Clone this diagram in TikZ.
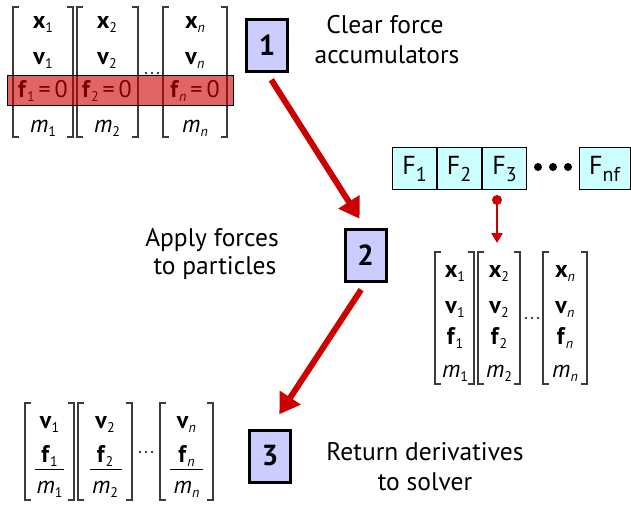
\documentclass[tikz,border=0pt]{standalone}
\usepackage{fontspec}
\setmainfont{PT Sans}
\usetikzlibrary{arrows.meta}
\definecolor{boxblue}{RGB}{204,204,255}
\definecolor{fcyan}{RGB}{204,255,255}
\definecolor{arrred}{RGB}{204,0,0}
\definecolor{brkgray}{RGB}{60,60,60}
\newcommand\sbs[1]{\raisebox{-0.4ex}{\fontsize{14}{14}\selectfont #1}}
\newcommand\fsb[1]{\raisebox{-0.55ex}{\fontsize{20}{20}\selectfont #1}}
\newcommand\brkpair[4]{%
  \draw[brk] (#1,#3) ++(6,0) -- ++(-6,0) -- (#1,#4) -- ++(6,0);
  \draw[brk] (#2,#3) ++(-6,0) -- ++(6,0) -- (#2,#4) -- ++(-6,0);}
\newcommand\mdots[2]{%
  \foreach \i in {0,6,12} \fill[black] (#1+\i,#2) circle (1.2);}
\begin{document}
\begin{tikzpicture}[x=1pt,y=-1pt,
  brk/.style={draw=brkgray,line width=1.3pt},
  ent/.style={anchor=base,inner sep=0pt,font=\fontsize{24}{24}\selectfont},
  lbl/.style={anchor=base,inner sep=0pt,font=\fontsize{25.5}{25.5}\selectfont},
  numbox/.style={draw=black,line width=3pt,fill=boxblue,minimum width=41pt,minimum height=52pt,inner sep=0pt,font=\fontsize{29}{29}\selectfont\bfseries},
  fbox/.style={draw=black,line width=0.9pt,fill=fcyan,minimum width=44pt,minimum height=42pt,inner sep=0pt,text height=18pt,text depth=6pt,font=\fontsize{26}{26}\selectfont},
  bigarrow/.style={draw=arrred,line width=6pt,-{Triangle[length=20pt,width=24pt]}},
  band/.style={draw=black,line width=1pt,fill=arrred,fill opacity=0.6,minimum width=226pt,minimum height=30pt,inner sep=0pt}]
\useasboundingbox (0,0) rectangle (631,504);

% ---- top matrix (step 1) ----
\brkpair{13}{73}{7}{137}
\brkpair{77}{138}{7}{137}
\brkpair{163}{227}{7}{137}
\mdots{146}{73}
\node[ent] (ax1) at (43,28) {\textbf{x}\sbs{1}};
\node[ent] (av1) at (43,64) {\textbf{v}\sbs{1}};
\node[ent] (af1) at (43,97) {\textbf{f}\sbs{1}\,=\,0};
\node[ent] (am1) at (43,132) {\textit{m}\sbs{1}};
\node[ent] (ax2) at (107,28) {\textbf{x}\sbs{2}};
\node[ent] (av2) at (107,64) {\textbf{v}\sbs{2}};
\node[ent] (af2) at (107,97) {\textbf{f}\sbs{2}\,=\,0};
\node[ent] (am2) at (107,132) {\textit{m}\sbs{2}};
\node[ent] (axn) at (195,28) {\textbf{x}\sbs{\textit{n}}};
\node[ent] (avn) at (195,64) {\textbf{v}\sbs{\textit{n}}};
\node[ent] (afn) at (195,97) {\textbf{f}\sbs{\textit{n}}\,=\,0};
\node[ent] (amn) at (195,132) {\textit{m}\sbs{\textit{n}}};
\node[band] (clr) at (120,90) {};

% ---- step boxes ----
\node[numbox] (b1) at (267,45.5) {1};
\node[numbox] (b2) at (365.5,255.5) {2};
\node[numbox] (b3) at (270,456) {3};

\node[lbl] (t1a) at (385,33) {Clear force};
\node[lbl] (t1b) at (387,63) {accumulators};
\node[lbl] (t2a) at (212,246) {Apply forces};
\node[lbl] (t2b) at (215,274) {to particles};
\node[lbl] (t3a) at (425,460) {Return derivatives};
\node[lbl] (t3b) at (425,490) {to solver};

\draw[bigarrow,shorten <=8pt,shorten >=11pt] (b1.south) -- (b2.north);
\draw[bigarrow,shorten <=8pt,shorten >=17pt] (b2.south) -- (b3.north);

% ---- force objects ----
\node[fbox] (F1) at (414.5,168.5) {F\fsb{1}};
\node[fbox] (F2) at (459,168.5) {F\fsb{2}};
\node[fbox] (F3) at (504.5,168.5) {F\fsb{3}};
\node[fbox,minimum width=51pt] (Fn) at (604.5,168) {F\fsb{nf}};
\foreach \x in {538,553,568} \fill[black] (\x,167) circle (4);

\coordinate (pin) at (497,200);
\coordinate (pinend) at (497,243);
\fill[arrred] (pin) circle (5);
\draw[arrred,line width=2.5pt,-{Triangle[length=10pt,width=11pt]}] (pin) -- (pinend);

% ---- right matrix (step 2) ----
\brkpair{435}{474}{252}{384}
\brkpair{478}{520}{252}{384}
\brkpair{543}{587}{252}{384}
\mdots{526}{318}
\node[ent] (bx1) at (455,277) {\textbf{x}\sbs{1}};
\node[ent] (bv1) at (455,313) {\textbf{v}\sbs{1}};
\node[ent] (bf1) at (455,344) {\textbf{f}\sbs{1}};
\node[ent] (bm1) at (455,377) {\textit{m}\sbs{1}};
\node[ent] (bx2) at (499,277) {\textbf{x}\sbs{2}};
\node[ent] (bv2) at (499,313) {\textbf{v}\sbs{2}};
\node[ent] (bf2) at (499,344) {\textbf{f}\sbs{2}};
\node[ent] (bm2) at (499,377) {\textit{m}\sbs{2}};
\node[ent] (bxn) at (565,277) {\textbf{x}\sbs{\textit{n}}};
\node[ent] (bvn) at (565,313) {\textbf{v}\sbs{\textit{n}}};
\node[ent] (bfn) at (565,344) {\textbf{f}\sbs{\textit{n}}};
\node[ent] (bmn) at (565,377) {\textit{m}\sbs{\textit{n}}};

% ---- bottom matrix (step 3) ----
\brkpair{25}{74}{403}{500}
\brkpair{78}{132}{403}{500}
\brkpair{160}{213}{403}{500}
\mdots{140}{452}
\node[ent] (cv1) at (49.5,428) {\textbf{v}\sbs{1}};
\node[ent] (cf1) at (49.5,462) {\textbf{f}\sbs{1}};
\node[ent] (cm1) at (49.5,493) {\textit{m}\sbs{1}};
\node[ent] (cv2) at (105,428) {\textbf{v}\sbs{2}};
\node[ent] (cf2) at (105,462) {\textbf{f}\sbs{2}};
\node[ent] (cm2) at (105,493) {\textit{m}\sbs{2}};
\node[ent] (cvn) at (186.5,428) {\textbf{v}\sbs{\textit{n}}};
\node[ent] (cfn) at (186.5,462) {\textbf{f}\sbs{\textit{n}}};
\node[ent] (cmn) at (186.5,493) {\textit{m}\sbs{\textit{n}}};
\draw[black,line width=1pt] (35,469) -- (64,469);
\draw[black,line width=1pt] (90,469) -- (122,469);
\draw[black,line width=1pt] (170,469) -- (203,469);
\end{tikzpicture}
\end{document}
